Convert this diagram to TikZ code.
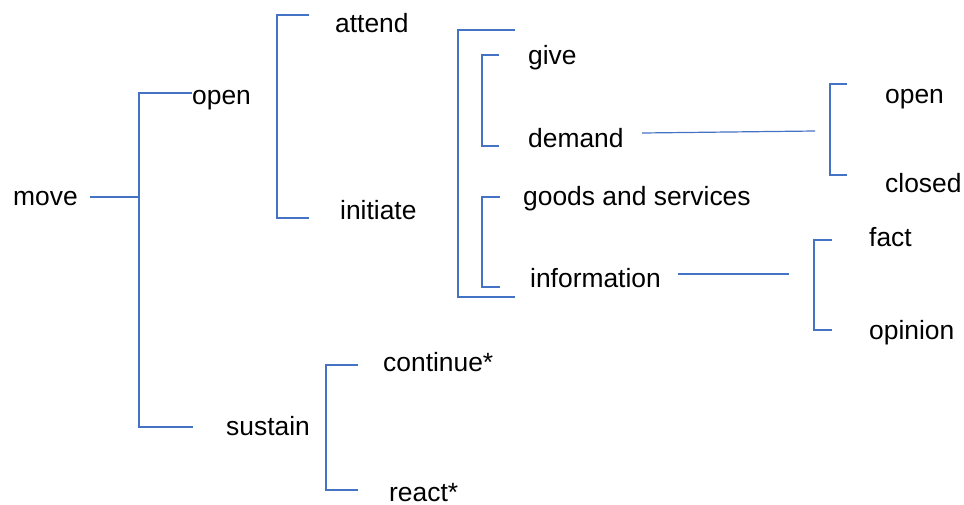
\documentclass[tikz,border=0pt]{standalone}
\usepackage{fontspec}
\setmainfont{Liberation Sans}
\begin{document}
\begin{tikzpicture}[x=1pt,y=-1pt,
  lbl/.style={anchor=base west,inner sep=0pt,font=\fontsize{26.4}{30}\selectfont},
  br/.style={draw={rgb,255:red,68;green,114;blue,196},line width=1.2pt}]
\useasboundingbox (0,0) rectangle (964,504);
% labels
\node[lbl] (move) at (13,205) {move};
\node[lbl] (open) at (192,104) {open};
\node[lbl] (sustain) at (226,435) {sustain};
\node[lbl] (attend) at (335,32) {attend};
\node[lbl] (initiate) at (340,219) {initiate};
\node[lbl] (give) at (528,64) {give};
\node[lbl] (demand) at (528,147) {demand};
\node[lbl] (goods) at (523,205) {goods and services};
\node[lbl] (info) at (530,287) {information};
\node[lbl] (openq) at (885,103) {open};
\node[lbl] (closed) at (885,192) {closed};
\node[lbl] (fact) at (869,246) {fact};
\node[lbl] (opinion) at (869,339) {opinion};
\node[lbl] (cont) at (383,371) {continue*};
\node[lbl] (react) at (389,501) {react*};
% connector points
\coordinate (m0) at (90,197);
\coordinate (m1) at (139,197);
\coordinate (mt) at (139,93);
\coordinate (mte) at (192,93);
\coordinate (mb) at (139,427);
\coordinate (mbe) at (193,427);
\coordinate (at) at (277,15);
\coordinate (ate) at (309,15);
\coordinate (ab) at (277,218);
\coordinate (abe) at (309,218);
\coordinate (bt) at (458,30);
\coordinate (bte) at (515,30);
\coordinate (bb) at (458,297);
\coordinate (bbe) at (515,297);
\coordinate (gt) at (482,55);
\coordinate (gte) at (499,55);
\coordinate (gb) at (482,146);
\coordinate (gbe) at (499,146);
\coordinate (st) at (482,197);
\coordinate (ste) at (500,197);
\coordinate (sb) at (482,287);
\coordinate (sbe) at (500,287);
\coordinate (d0) at (642,133);
\coordinate (d1) at (815,131);
\coordinate (ot) at (830,84);
\coordinate (ote) at (847,84);
\coordinate (ob) at (830,175);
\coordinate (obe) at (847,175);
\coordinate (i0) at (678,274);
\coordinate (i1) at (789,274);
\coordinate (ft) at (814,240);
\coordinate (fte) at (832,240);
\coordinate (fb) at (814,330);
\coordinate (fbe) at (832,330);
\coordinate (ct) at (326,365);
\coordinate (cte) at (358,365);
\coordinate (cb) at (326,490);
\coordinate (cbe) at (358,490);
% connectors
\draw[br] (m0) -- (m1);
\draw[br] (mte) -- (mt) -- (mb) -- (mbe);
\draw[br] (ate) -- (at) -- (ab) -- (abe);
\draw[br] (bte) -- (bt) -- (bb) -- (bbe);
\draw[br] (gte) -- (gt) -- (gb) -- (gbe);
\draw[br] (ste) -- (st) -- (sb) -- (sbe);
\draw[br] (d0) -- (d1);
\draw[br] (ote) -- (ot) -- (ob) -- (obe);
\draw[br] (i0) -- (i1);
\draw[br] (fte) -- (ft) -- (fb) -- (fbe);
\draw[br] (cte) -- (ct) -- (cb) -- (cbe);
\end{tikzpicture}
\end{document}
